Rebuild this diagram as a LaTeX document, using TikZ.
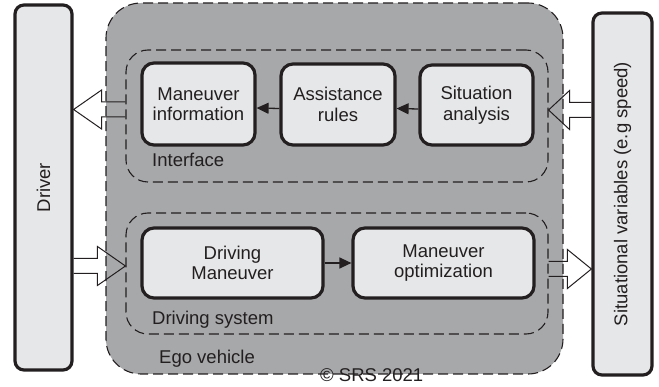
\documentclass[tikz,border=0pt]{standalone}
\usepackage{fontspec}
\setmainfont{Liberation Sans}
\usetikzlibrary{%
  arrows.meta,%
  calc%
}
\definecolor{egogray}{HTML}{A7A8AA}
\definecolor{boxgray}{HTML}{E6E7E8}
\definecolor{inkgray}{HTML}{231F20}

\tikzset{
  txt/.style={font=\fontsize{18.5}{20.5}\selectfont,text=inkgray},
  block/.style={draw=inkgray,line width=3.2pt,rounded corners=12pt,fill=boxgray,
    align=center,inner sep=0pt,txt},
  side/.style={block,rounded corners=9pt},
  group/.style={draw=inkgray,dash pattern=on 10pt off 5pt,line width=1.1pt,
    rounded corners=22pt,minimum width=422pt,inner sep=0pt},
  flow/.style={-{Triangle[length=12pt,width=11pt]},line width=1.3pt,draw=inkgray},
  hollow/.style={line width=1pt,draw=inkgray,line join=miter},
  lbl/.style={anchor=base west,inner sep=0pt,txt}
}

% hollow arrow: tail, tip, signed length of the head
\newcommand\bigarrow[3]{%
  \draw[hollow] ($(#1)+(0,-7.5)$) -- ($(#2)+(#3,-7.5)$) -- ($(#2)+(#3,-19.5)$)
    -- (#2) -- ($(#2)+(#3,19.5)$) -- ($(#2)+(#3,7.5)$) -- ($(#1)+(0,7.5)$);}

\begin{document}
\begin{tikzpicture}[x=1pt,y=-1pt]
  \useasboundingbox (0,0) rectangle (659,387);

  % ego vehicle and its two groups
  \node[draw=inkgray,fill=egogray,dash pattern=on 10pt off 5pt,line width=1.1pt,
    rounded corners=35pt,minimum width=457pt,minimum height=371pt] (ego)
    at (334.5,188.5) {};
  \node[group,minimum height=132pt] (iface) at (337,116) {};
  \node[group,minimum height=121pt] (drvsys) at (337,273.5) {};

  % side boxes
  \node[side,minimum width=57pt,minimum height=365pt] (driver) at (43.5,187.5) {};
  \node[side,minimum width=59pt,minimum height=362pt] (situvar) at (622.5,194) {};
  \node[txt,rotate=90] (drivertxt) at (driver) {Driver};
  \node[txt,rotate=90] (situvartxt) at (situvar) {Situational variables (e.g speed)};

  % blocks
  \node[block,minimum width=113pt,minimum height=82pt] (maninfo) at (198.5,104)
    {Maneuver\\information};
  \node[block,minimum width=114pt,minimum height=81pt] (assist) at (338,104.5)
    {Assistance\\rules};
  \node[block,minimum width=113pt,minimum height=80pt] (situ) at (476.5,105)
    {Situation\\analysis};
  \node[block,minimum width=181pt,minimum height=70pt] (drvman) at (232.5,263)
    {Driving\\Maneuver};
  \node[block,minimum width=181pt,minimum height=70pt] (manopt) at (443.5,263)
    {Maneuver\\optimization};

  % connectors
  \draw[flow] ([yshift=-4pt]situ.west) -- ([yshift=-4pt]assist.west -| assist.east);
  \draw[flow] ([yshift=-4pt]assist.west) -- ([yshift=-4pt]maninfo.west -| maninfo.east);
  \draw[flow] (drvman.east) -- (manopt.west);

  \coordinate (ifaceout) at ([yshift=-5.5pt]maninfo.west -| iface.west);
  \coordinate (driverin) at ([yshift=-5.5pt]maninfo.west -| driver.east);
  \coordinate (situvarout) at ([yshift=-5pt]situ.east -| situvar.west);
  \coordinate (ifacein) at ([yshift=-5pt]situ.east -| iface.east);
  \coordinate (driverout) at ([yshift=-3pt]drvman.west -| driver.east);
  \coordinate (drvsysin) at ([yshift=-3pt]drvman.west -| drvsys.west);
  \coordinate (drvsysout) at ([yshift=-6pt]manopt.east -| drvsys.east);
  \coordinate (situvarin) at ([yshift=-6pt]manopt.east -| situvar.west);

  \bigarrow{ifaceout}{driverin}{28}
  \bigarrow{situvarout}{ifacein}{21}
  \bigarrow{driverout}{drvsysin}{-28}
  \bigarrow{drvsysout}{situvarin}{-24}

  % labels
  \node[lbl] (ifacelbl) at (152,167) {Interface};
  \node[lbl] (drvsyslbl) at (152,325) {Driving system};
  \node[lbl] (egolbl) at (159,364) {Ego vehicle};
  \node[lbl] (copyright) at (320,382) {© SRS 2021};
\end{tikzpicture}
\end{document}
